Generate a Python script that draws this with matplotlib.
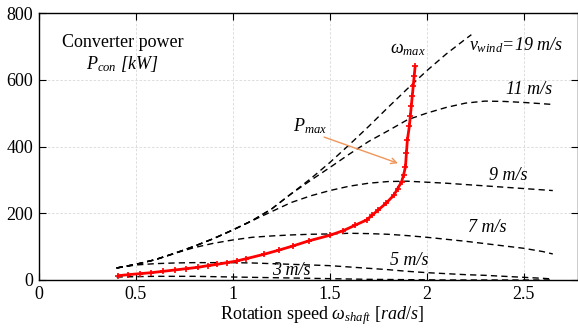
import matplotlib
matplotlib.use("Agg")
import matplotlib.pyplot as plt
import numpy as np

plt.rcParams['font.family'] = ['Liberation Serif', 'DejaVu Serif']
plt.rcParams['mathtext.fontset'] = 'custom'
plt.rcParams['mathtext.rm'] = 'Liberation Serif'
plt.rcParams['mathtext.it'] = 'Liberation Serif:italic'

# shaft speed grid for the wind-speed curves [rad/s]
speed = [0.4, 0.5, 0.6, 0.7, 0.8, 0.9, 1.0, 1.1, 1.2, 1.3, 1.4, 1.5, 1.6,
         1.7, 1.8, 1.9, 2.0, 2.1, 2.2, 2.3, 2.4, 2.5, 2.6, 2.65]

# converter power [kW] per wind speed
p_3 = [9, 10, 11, 11, 11, 10, 9, 8, 7, 6, 5, 4, 3, 2, 1.5, 1, 0.5, 0, 0, 0, 0, 0, 0, 0]
p_5 = [36, 45, 49, 51, 52, 52, 52, 51, 49, 47, 45, 43, 39, 35, 31, 26, 22, 19, 16, 14, 11, 8, 5, 3]
p_7 = [36, 47, 61, 80, 97, 110, 120, 128, 132, 135, 137, 138, 140, 139, 137, 133, 128,
       122, 116, 109, 102, 95, 85, 78]
p_9 = [36, 47, 61, 80, 101, 124, 150, 178, 205, 232, 252, 268, 281, 290, 295, 296, 293,
       290, 286, 282, 278, 274, 270, 268]
p_11 = [36, 47, 61, 80, 101, 124, 150, 178, 213, 258, 298, 337, 377, 415, 447, 480, 500,
        517, 530, 536, 535, 532, 528, 526]

speed_19 = [0.4, 0.5, 0.6, 0.7, 0.8, 0.9, 1.0, 1.1, 1.2, 1.3, 1.4, 1.5, 1.6, 1.7, 1.8,
            1.9, 2.0, 2.1, 2.2, 2.23]
p_19 = [36, 47, 61, 80, 101, 124, 150, 178, 213, 258, 303, 352, 405, 460, 517, 573, 627,
        677, 722, 735]

# maximum power trajectory
pmax_speed = [0.41, 0.46, 0.52, 0.58, 0.64, 0.70, 0.76, 0.82, 0.87, 0.92, 0.97, 1.02, 1.07,
              1.16, 1.24, 1.31, 1.39, 1.50, 1.57, 1.63, 1.69, 1.72, 1.75, 1.79, 1.83, 1.85,
              1.87, 1.88, 1.89, 1.895, 1.90, 1.91, 1.915, 1.92, 1.925, 1.93, 1.935, 1.94]
pmax_power = [13, 16, 19, 22, 26, 30, 34, 38, 43, 47, 52, 57, 64, 77, 90, 102, 117, 134, 148,
              164, 180, 195, 210, 230, 254, 274, 294, 314, 339, 380, 420, 460, 490, 520, 550,
              580, 610, 640]

fig = plt.figure(figsize=(5.78, 3.29), dpi=100)
ax = fig.add_axes([39 / 578, 49 / 329, 539 / 578, 267 / 329])

dash = (0, (4.5, 3))
for p in [p_3, p_5, p_7, p_9, p_11]:
    ax.plot(speed, p, color='black', lw=1.0, linestyle=dash)
ax.plot(speed_19, p_19, color='black', lw=1.0, linestyle=dash)

ax.plot(pmax_speed, pmax_power, color='red', lw=2.0, marker='+', ms=5, mew=1.2)

ax.set_xlim(0, 2.78)
ax.set_ylim(0, 800)
ax.set_xticks([0, 0.5, 1, 1.5, 2, 2.5])
ax.set_xticklabels(['0', '0.5', '1', '1.5', '2', '2.5'])
ax.set_yticks([0, 200, 400, 600, 800])
ax.tick_params(direction='in', top=True, right=True, length=5, width=0.8,
               labelsize=13, pad=4)
ax.grid(True, color='#d8d8d8', linestyle=(0, (3, 2)), lw=0.6)
for s in ax.spines.values():
    s.set_linewidth(1.0)

txt = dict(fontsize=13, ha='center', va='center')
ax.text(0.43, 713, 'Converter power', **txt)
ax.text(0.43, 648, r'$P_{con}$ [kW]', style='italic', **txt)
ax.text(1.90, 690, r'$\omega_{max}$', **txt)
ax.text(2.46, 704, r'$v_{wind}$=19 m/s', style='italic', **txt)
ax.text(2.53, 572, '11 m/s', style='italic', **txt)
ax.text(2.42, 314, '9 m/s', style='italic', **txt)
ax.text(2.31, 156, '7 m/s', style='italic', **txt)
ax.text(1.91, 57, '5 m/s', style='italic', **txt)
ax.text(1.30, 28, '3 m/s', style='italic', **txt)
ax.text(1.40, 461, r'$P_{max}$', **txt)

ax.annotate('', xy=(1.865, 347), xytext=(1.457, 431),
            arrowprops=dict(arrowstyle='->', color='#f0965a', lw=1.0))

fig.text(322 / 578, 1 - 316 / 329, r'Rotation speed $\omega_{shaft}$ $[rad/s]$',
         fontsize=13, ha='center', va='center')

fig.savefig('out.png', dpi=100)
